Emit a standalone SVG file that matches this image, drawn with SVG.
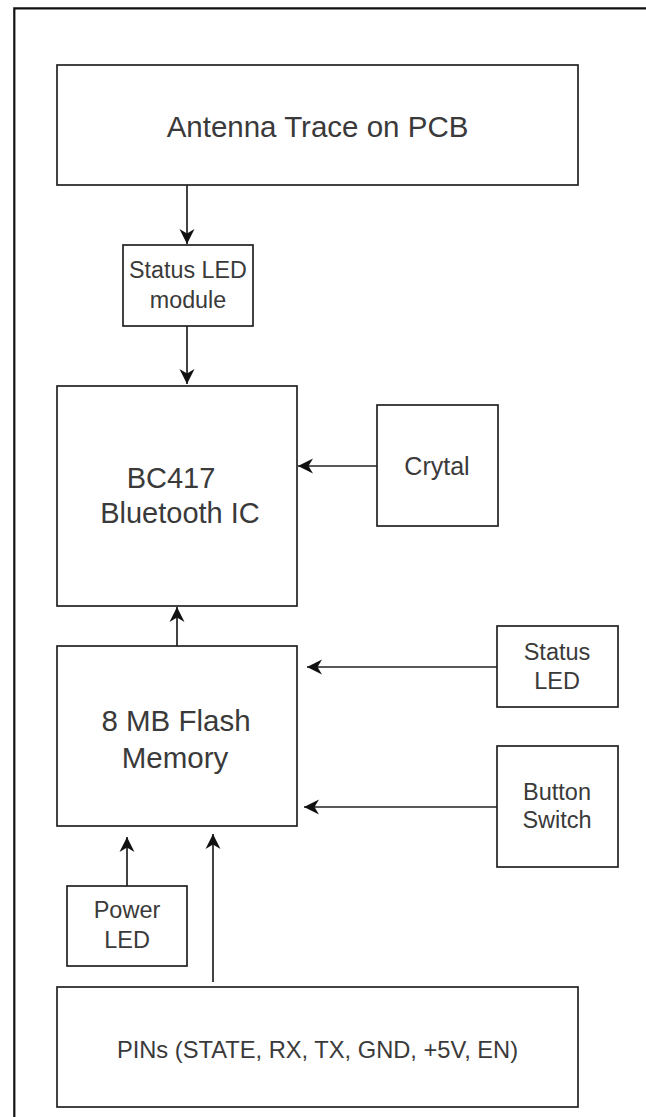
<svg xmlns="http://www.w3.org/2000/svg" width="646" height="1117" viewBox="0 0 646 1117">
<defs>
<style>
.box{fill:#fff;stroke:#222;stroke-width:1.7}
.t{font-family:"Liberation Sans",Arial,sans-serif;fill:#3a3a3a;text-anchor:middle;dominant-baseline:central}
.c{fill:none;stroke:#222;stroke-width:1.7}
.frame{fill:none;stroke:#111;stroke-width:2.2}
</style>
<marker id="arr" markerUnits="userSpaceOnUse" markerWidth="17" markerHeight="17" refX="15" refY="8" orient="auto" viewBox="0 0 17 16">
<path d="M0,0.5 L15,8 L0,15.5 L4.5,8 Z" fill="#111"/>
</marker>
</defs>
<rect width="646" height="1117" fill="#fff"/>
<path class="frame" d="M14.3,1117 L14.3,8.3 L646,8.3"/>
<g id="connectors">
<line class="c" x1="187" y1="185" x2="187" y2="244" marker-end="url(#arr)"/>
<line class="c" x1="187" y1="326" x2="187" y2="384" stroke-width="2.3" marker-end="url(#arr)"/>
<line class="c" x1="377" y1="466" x2="298" y2="466" marker-end="url(#arr)"/>
<line class="c" x1="177" y1="646" x2="177" y2="607" marker-end="url(#arr)"/>
<line class="c" x1="497" y1="667" x2="307" y2="667" marker-end="url(#arr)"/>
<line class="c" x1="497" y1="807" x2="304" y2="807" marker-end="url(#arr)"/>
<line class="c" x1="127" y1="886" x2="127" y2="837" marker-end="url(#arr)"/>
<line class="c" x1="213" y1="982" x2="213" y2="834" marker-end="url(#arr)"/>
</g>
<g id="antenna">
<rect class="box" x="57" y="65" width="521" height="120"/>
<text class="t" x="317.5" y="126" font-size="29.5">Antenna Trace on PCB</text>
</g>
<g id="status-led-module">
<rect class="box" x="123" y="245" width="130" height="81"/>
<text class="t" x="188" y="270" font-size="23.3">Status LED</text>
<text class="t" x="188" y="300" font-size="23.3">module</text>
</g>
<g id="bc417">
<rect class="box" x="57" y="386" width="240" height="220"/>
<text class="t" x="171" y="478" font-size="29">BC417</text>
<text class="t" x="180" y="513" font-size="29">Bluetooth IC</text>
</g>
<g id="crystal">
<rect class="box" x="377" y="405" width="121" height="121"/>
<text class="t" x="437" y="466" font-size="25">Crytal</text>
</g>
<g id="flash">
<rect class="box" x="57" y="646" width="240" height="180"/>
<text class="t" x="176" y="720" font-size="29.5">8 MB Flash</text>
<text class="t" x="175" y="757" font-size="29.5">Memory</text>
</g>
<g id="status-led">
<rect class="box" x="497" y="626" width="121" height="81"/>
<text class="t" x="557" y="652" font-size="23.5">Status</text>
<text class="t" x="557" y="681" font-size="23.5">LED</text>
</g>
<g id="button-switch">
<rect class="box" x="497" y="746" width="121" height="121"/>
<text class="t" x="557" y="792" font-size="23.5">Button</text>
<text class="t" x="557" y="820" font-size="23.5">Switch</text>
</g>
<g id="power-led">
<rect class="box" x="67" y="886" width="120" height="80"/>
<text class="t" x="127" y="910" font-size="23.5">Power</text>
<text class="t" x="127" y="940" font-size="23.5">LED</text>
</g>
<g id="pins">
<rect class="box" x="57" y="987" width="521" height="120"/>
<text class="t" x="317.5" y="1050" font-size="23.7">PINs (STATE, RX, TX, GND, +5V, EN)</text>
</g>
</svg>
